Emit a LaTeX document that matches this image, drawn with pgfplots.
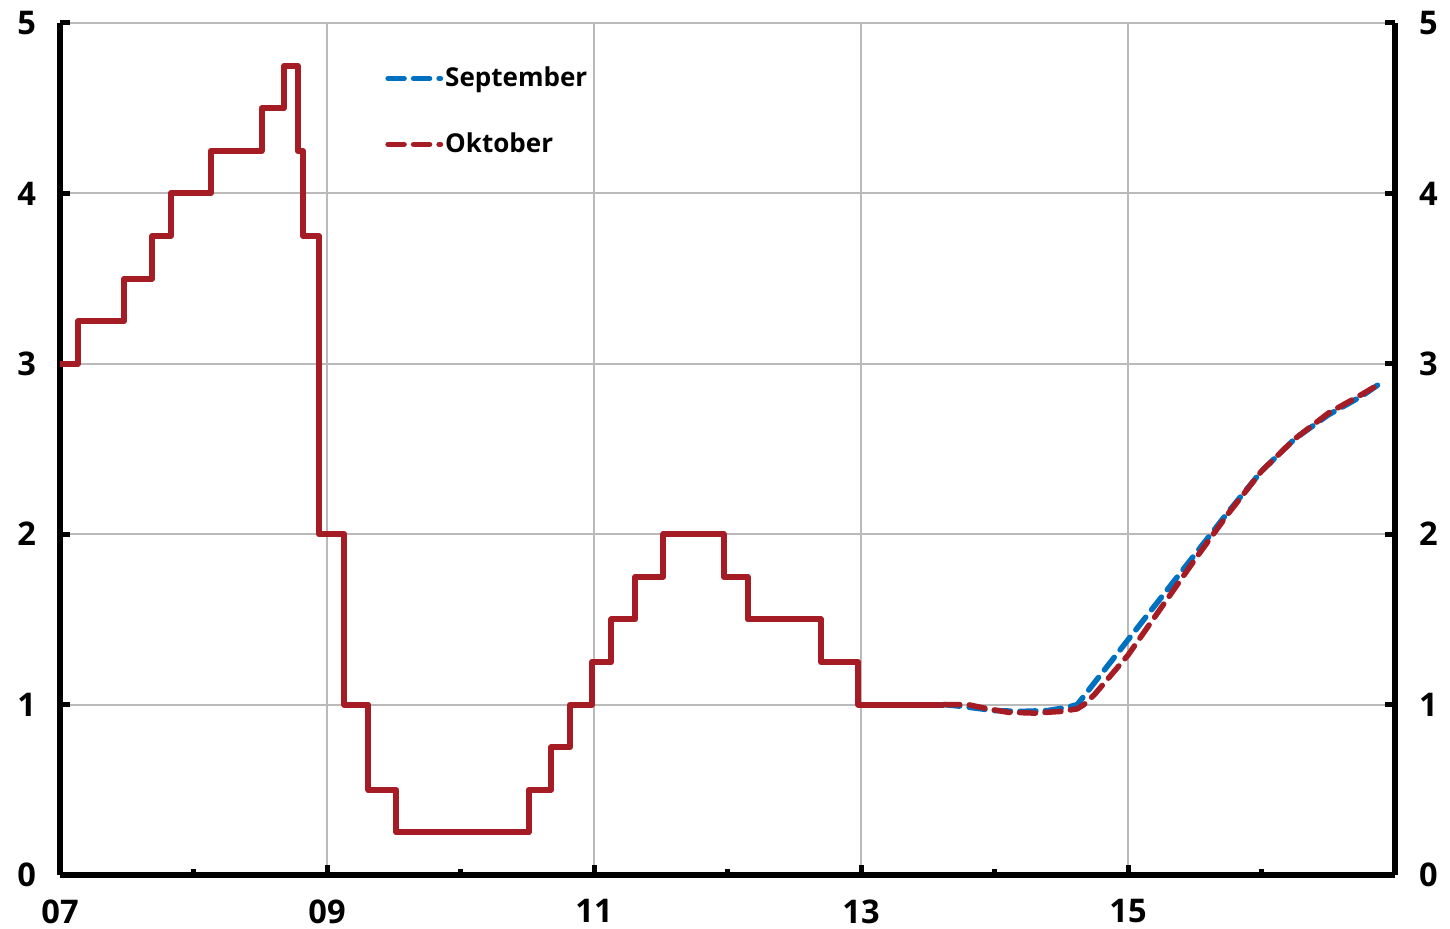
\documentclass[border=0pt]{standalone}
\usepackage{fontspec}
\setmainfont{Open Sans}
\usepackage{pgfplots}
\pgfplotsset{compat=1.18}
\definecolor{myred}{RGB}{166,28,36}
\definecolor{myblue}{RGB}{0,112,192}
\definecolor{gridgray}{RGB}{186,186,186}
\begin{document}
\begin{tikzpicture}
\path[use as bounding box] (-30pt,-27pt) rectangle (695pt,437.5pt);
\pgfplotsset{
  common/.style={
    scale only axis, width=667.5pt, height=426pt,
    at={(0,0)}, anchor=south west,
    xmin=2007, xmax=2017, ymin=0, ymax=5,
    ytick={0,1,2,3,4,5},
    tick align=inside,
    major tick length=5pt, minor tick length=3pt,
    tick style={line width=2.5pt, black},
    axis line style={line width=2.75pt, black, -},
    ticklabel style={font=\bfseries\fontsize{16.3}{16}\selectfont},
    /pgf/number format/assume math mode=true,
  }
}
\begin{axis}[common,
  axis x line*=bottom, axis y line*=left,
  xtick={2007,2009,2011,2013,2015,2017},
  xticklabels={07,09,11,13,15,},
  minor xtick={2008,2010,2012,2014,2016},
  xmajorgrids, ymajorgrids,
  major grid style={gridgray, line width=1pt},
  yticklabel style={xshift=-8.5pt},
  xticklabel style={yshift=-8.8pt},
  legend style={at={(0.2434,0.8962)}, anchor=west, draw=none, fill=none,
    inner sep=0pt, row sep=19.5pt,
    font=\bfseries\fontsize{13}{13}\selectfont, nodes={inner sep=1pt}},
  legend cell align=left,
  legend image code/.code={\draw[#1] (0pt,0pt) -- (26.2pt,0pt);},
]
\addplot[const plot, myred, line width=3pt, line join=round, forget plot] coordinates {
(2007.0,3.0)
(2007.135,3.25)
(2007.48,3.5)
(2007.69,3.75)
(2007.83,4.0)
(2008.13,4.25)
(2008.51,4.5)
(2008.68,4.75)
(2008.78,4.25)
(2008.82,3.75)
(2008.94,2.0)
(2009.13,1.0)
(2009.31,0.5)
(2009.52,0.25)
(2010.51,0.5)
(2010.68,0.75)
(2010.82,1.0)
(2010.985,1.25)
(2011.13,1.5)
(2011.31,1.75)
(2011.52,2.0)
(2011.97,1.75)
(2012.15,1.5)
(2012.70,1.25)
(2012.98,1.0)
(2013.62,1.0)
};
\addplot[myblue, line width=2.75pt, line cap=round, line join=round, dash pattern=on 8pt off 4.75pt] coordinates {
(2013.62,1.00)
(2013.75,0.99)
(2013.9,0.975)
(2014.0,0.965)
(2014.2,0.96)
(2014.4,0.965)
(2014.55,0.985)
(2014.62,1.00)
(2014.75,1.13)
(2015.0,1.38)
(2015.25,1.63)
(2015.5,1.88)
(2015.75,2.13)
(2016.0,2.37)
(2016.25,2.56)
(2016.5,2.70)
(2016.75,2.81)
(2016.88,2.88)
};
\addlegendentry{September}
\addplot[myred, line width=2.75pt, line cap=round, line join=round, dash pattern=on 8pt off 4.75pt] coordinates {
(2013.62,1.00)
(2013.8,1.00)
(2013.95,0.975)
(2014.1,0.955)
(2014.3,0.95)
(2014.5,0.96)
(2014.62,0.975)
(2014.67,1.00)
(2014.75,1.06)
(2015.0,1.29)
(2015.25,1.57)
(2015.5,1.85)
(2015.75,2.12)
(2016.0,2.37)
(2016.25,2.56)
(2016.5,2.71)
(2016.75,2.82)
(2016.88,2.88)
};
\addlegendentry{Oktober}
\end{axis}
\begin{axis}[common,
  axis x line=none, axis y line*=right,
  yticklabel style={xshift=8.5pt},
]
\addplot[draw=none] coordinates {(2007,0) (2017,5)};
\end{axis}
\end{tikzpicture}
\end{document}
